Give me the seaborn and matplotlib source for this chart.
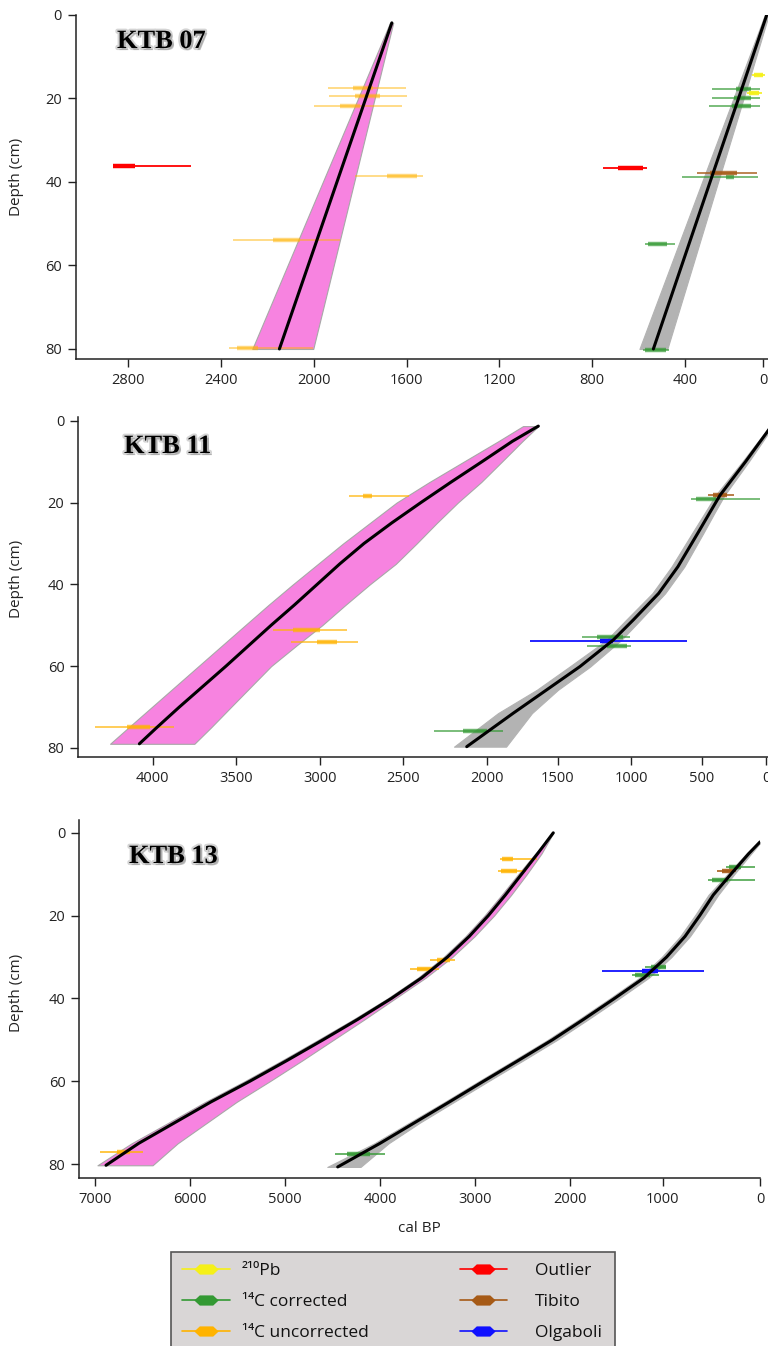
import numpy as np
import pandas as pd
import matplotlib
matplotlib.use("Agg")
import matplotlib.pyplot as plt
import seaborn as sns
from matplotlib.lines import Line2D
from matplotlib.patches import Rectangle
from matplotlib.path import Path
import matplotlib.patheffects as pe

# ---------------------------------------------------------------- data
# Age-depth models: depth (cm), median age, young edge, old edge (cal BP)
k07_unc_depth = [2, 80]
k07_unc_age = [1664, 2148]
k07_unc_young = [1658, 2002]
k07_unc_old = [1672, 2265]

k07_cor_depth = [0, 20, 40, 60, 80]
k07_cor_age = [-20, 125, 271, 414, 536]
k07_cor_young = [-30, 99, 230, 360, 476]
k07_cor_old = [-10, 151, 312, 461, 596]

k11_unc_depth = [1.3, 5, 10, 15, 20, 25, 30, 35, 40, 45, 50, 55, 60, 65, 70, 75, 79]
k11_unc_age = [1637, 1820, 2030, 2215, 2395, 2570, 2735, 2880, 3015, 3150, 3290, 3425, 3560,
               3700, 3840, 3975, 4080]
k11_unc_young = [1637, 1750, 1895, 2035, 2174, 2300, 2420, 2545, 2700, 2845, 2985, 3140, 3290,
                 3410, 3530, 3650, 3750]
k11_unc_old = [1745, 1920, 2139, 2345, 2540, 2700, 2860, 3010, 3160, 3305, 3445, 3585, 3725,
               3865, 4005, 4145, 4256]

k11_cor_depth = [0, 2.7, 10, 18.2, 22.5, 27.5, 35.7, 42.2, 48.7, 53.6, 60.1, 65.8, 71.5, 79.7]
k11_cor_age = [-70, -10, 160, 359, 440, 530, 670, 805, 984, 1121, 1348, 1578, 1814, 2121]
k11_cor_young = [-80, -25, 135, 324, 402, 490, 625, 760, 934, 1066, 1278, 1498, 1682, 1865]
k11_cor_old = [-60, 5, 185, 394, 478, 570, 715, 850, 1034, 1166, 1418, 1648, 1922, 2197]

k13_unc_depth = [0, 5, 10, 15, 20, 25, 30, 35, 40, 45, 50, 55, 60, 65, 70, 75, 80.3]
k13_unc_age = [2176, 2340, 2510, 2680, 2860, 3060, 3290, 3560, 3880, 4230, 4600, 4980, 5370,
               5780, 6160, 6540, 6884]
k13_unc_young = [2176, 2300, 2455, 2620, 2800, 3005, 3240, 3520, 3840, 4160, 4490, 4820, 5160,
                 5510, 5820, 6130, 6394]
k13_unc_old = [2176, 2365, 2545, 2720, 2900, 3100, 3330, 3600, 3920, 4275, 4650, 5032, 5425,
               5840, 6225, 6615, 6974]

k13_cor_depth = [2.2, 5, 10, 15, 20, 25, 30, 35, 40, 45, 50, 55, 60, 65, 70, 75, 80.7]
k13_cor_age = [0, 115, 300, 480, 620, 770, 960, 1200, 1520, 1850, 2185, 2545, 2910, 3270,
               3635, 4000, 4445]
k13_cor_young = [-10, 90, 265, 430, 570, 720, 910, 1150, 1470, 1800, 2135, 2495, 2860, 3220,
                 3580, 3910, 4205]
k13_cor_old = [10, 140, 335, 530, 670, 820, 1010, 1250, 1570, 1900, 2235, 2595, 2960, 3320,
               3690, 4060, 4555]

# Dated samples: (depth, range low, range high, core low, core high)
k07_pb210 = [(14.4, -10, 58, 0, 45), (18.8, 7, 84, 20, 70)]
k07_c14_cor = [(17.8, 15, 263, 60, 140), (19.9, 15, 263, 60, 150), (22.0, 15, 275, 60, 160),
               (38.8, 24, 414, 150, 190), (54.8, 443, 572, 479, 558), (80.2, 468, 579, 480, 570)]
k07_c14_unc = [(17.6, 1603, 1937, 1745, 1831), (19.6, 1599, 1933, 1714, 1822),
               (21.8, 1621, 1999, 1800, 1887), (38.6, 1528, 1822, 1556, 1685),
               (53.9, 1887, 2347, 2059, 2175), (79.8, 2002, 2364, 2240, 2330)]
k07_outlier = [(36.2, 2530, 2864, 2770, 2864), (36.7, 562, 754, 581, 688)]
k07_tibito = [(37.8, 32, 337, 135, 272)]
k07_olgaboli = []

k11_pb210 = []
k11_c14_cor = [(19.1, 44, 580, 392, 542), (53.0, 1007, 1332, 1053, 1234),
               (55.1, 1002, 1298, 1029, 1166), (75.9, 1889, 2316, 2002, 2141)]
k11_c14_unc = [(18.4, 2464, 2823, 2687, 2740), (51.2, 2839, 3277, 3000, 3159),
               (54.1, 2769, 3171, 2898, 3018), (75.0, 3872, 4346, 4016, 4156)]
k11_outlier = []
k11_tibito = [(18.2, 250, 453, 306, 417)]
k11_olgaboli = [(53.9, 603, 1696, 1121, 1211)]

k13_pb210 = []
k13_c14_cor = [(8.2, 53, 350, 193, 316), (11.3, 53, 533, 333, 491), (32.4, 965, 1193, 965, 1123),
               (34.4, 1045, 1326, 1140, 1298), (77.6, 3947, 4474, 4105, 4351)]
k13_c14_unc = [(6.2, 2351, 2737, 2600, 2720), (9.3, 2463, 2754, 2560, 2730),
               (30.8, 3211, 3474, 3260, 3400), (32.9, 3379, 3684, 3439, 3614),
               (77.0, 6491, 6947, 6632, 6772)]
k13_outlier = []
k13_tibito = [(9.3, 245, 439, 281, 386)]
k13_olgaboli = [(33.4, 579, 1656, 1053, 1228)]

core_names = ["KTB 07", "KTB 11", "KTB 13"]
k07_ticks = [0, 400, 800, 1200, 1600, 2000, 2400, 2800]
k11_ticks = [0, 500, 1000, 1500, 2000, 2500, 3000, 3500, 4000]
k13_ticks = [0, 1000, 2000, 3000, 4000, 5000, 6000, 7000]
depth_ticks = [0, 20, 40, 60, 80]
legend_labels = ["²¹⁰Pb", "¹⁴C corrected", "¹⁴C uncorrected", "Outlier", "Tibito", "Olgaboli"]

# ---------------------------------------------------------------- layout / style
W, H = 768, 1346
# horizontal axis calibration (pixel position of each tick; the published axes are not linear)
k07_tick_px = [763, 685, 592, 499.3, 406.7, 313.7, 221, 128.3]
k11_tick_px = [766, 702, 631, 557.7, 487, 403.3, 319.7, 236, 152.7]
k13_tick_px = [760, 662.7, 570, 475, 380, 285, 190, 95]

C_PB = "#f5f018"
C_COR = "#339933"
C_UNC = "#ffb300"
C_OUT = "#ff0000"
C_TIB = "#a65a16"
C_OLG = "#1010ff"
C_PINK = "#f783e0"
C_GREY = "#b3b3b3"

sns.set_style("ticks")
plt.rcParams["font.family"] = ["Open Sans", "DejaVu Sans"]


def piecewise(vals, px):
    v = np.asarray(vals, float)
    p = -np.asarray(px, float)
    s_lo = (p[1] - p[0]) / (v[1] - v[0])
    s_hi = (p[-1] - p[-2]) / (v[-1] - v[-2])

    def fwd(x):
        x = np.asarray(x, float)
        out = np.interp(x, v, p)
        out = np.where(x < v[0], p[0] + (x - v[0]) * s_lo, out)
        out = np.where(x > v[-1], p[-1] + (x - v[-1]) * s_hi, out)
        return out

    def inv(y):
        y = np.asarray(y, float)
        out = np.interp(y, p, v)
        out = np.where(y < p[0], v[0] + (y - p[0]) / s_lo, out)
        out = np.where(y > p[-1], v[-1] + (y - p[-1]) / s_hi, out)
        return out

    return fwd, inv


fig = plt.figure(figsize=(W / 100, H / 100), dpi=100)

panels = [
    dict(box=(76, 768, 14.5, 359), ylim=(82.4, 0.0), ticks=k07_ticks, tpx=k07_tick_px,
         unc=(k07_unc_depth, k07_unc_age, k07_unc_young, k07_unc_old),
         cor=(k07_cor_depth, k07_cor_age, k07_cor_young, k07_cor_old),
         dates=[(k07_c14_unc, C_UNC, 0.5), (k07_c14_cor, C_COR, 0.7), (k07_pb210, C_PB, 0.9),
                (k07_outlier, C_OUT, 1.0), (k07_tibito, C_TIB, 0.8), (k07_olgaboli, C_OLG, 1.0)],
         name_xy=(117, 48), ylab_y=177),
    dict(box=(78.3, 768, 416.7, 757.3), ylim=(82.3, -1.0), ticks=k11_ticks, tpx=k11_tick_px,
         unc=(k11_unc_depth, k11_unc_age, k11_unc_young, k11_unc_old),
         cor=(k11_cor_depth, k11_cor_age, k11_cor_young, k11_cor_old),
         dates=[(k11_c14_unc, C_UNC, 0.7), (k11_c14_cor, C_COR, 0.7), (k11_pb210, C_PB, 0.9),
                (k11_outlier, C_OUT, 1.0), (k11_tibito, C_TIB, 0.85), (k11_olgaboli, C_OLG, 1.0)],
         name_xy=(124, 453), ylab_y=579),
    dict(box=(79.3, 760, 820, 1177.7), ylim=(83.3, -3.1), ticks=k13_ticks, tpx=k13_tick_px,
         unc=(k13_unc_depth, k13_unc_age, k13_unc_young, k13_unc_old),
         cor=(k13_cor_depth, k13_cor_age, k13_cor_young, k13_cor_old),
         dates=[(k13_c14_unc, C_UNC, 0.8), (k13_c14_cor, C_COR, 0.8), (k13_pb210, C_PB, 0.9),
                (k13_outlier, C_OUT, 1.0), (k13_tibito, C_TIB, 0.9), (k13_olgaboli, C_OLG, 1.0)],
         name_xy=(129, 863), ylab_y=993),
]

for i, P in enumerate(panels):
    l, r, t, b = P["box"]
    ax = fig.add_axes([l / W, 1 - b / H, (r - l) / W, (b - t) / H])
    fwd, inv = piecewise(P["ticks"], P["tpx"])
    ax.set_xscale("function", functions=(fwd, inv))

    for (dep, age, yng, old), fill, edge in [(P["unc"], C_PINK, "#a8a8a8"), (P["cor"], C_GREY, C_GREY)]:
        ax.fill_betweenx(dep, yng, old, facecolor=fill, edgecolor=edge, lw=0.8, zorder=1)
        df = pd.DataFrame({"age": age, "depth": dep})
        sns.lineplot(data=df, x="age", y="depth", orient="y", sort=False, estimator=None,
                     color="black", lw=2.2, ax=ax, zorder=4)

    for rows, col, alpha in P["dates"]:
        if not rows:
            continue
        d = [row[0] for row in rows]
        ax.hlines(d, [row[1] for row in rows], [row[2] for row in rows],
                  colors=col, lw=1.3, alpha=alpha, zorder=3)
        ax.hlines(d, [row[3] for row in rows], [row[4] for row in rows],
                  colors=col, lw=3.2, alpha=alpha, zorder=3)

    ax.set_xlim(float(inv(-l)), float(inv(-r)))
    ax.set_ylim(*P["ylim"])
    ax.set_xticks(P["ticks"])
    ax.set_xticklabels([str(v) for v in P["ticks"]])
    ax.set_yticks(depth_ticks)
    ax.set_yticklabels([str(v) for v in depth_ticks])
    ax.minorticks_off()
    ax.set_xlabel("")
    ax.set_ylabel("Depth (cm)", fontsize=11, color="#222222")
    ax.yaxis.set_label_coords(24 / W, 1 - P["ylab_y"] / H, transform=fig.transFigure)
    for s in ["top", "right"]:
        ax.spines[s].set_visible(False)
    for s in ["left", "bottom"]:
        ax.spines[s].set_color("#222222")
        ax.spines[s].set_linewidth(1.1)
    ax.tick_params(direction="out", length=6, width=1, colors="#222222", labelsize=10.5, pad=4)
    ax.set_facecolor("white")

    nx, ny = P["name_xy"]
    fig.text(nx / W, 1 - ny / H, core_names[i], fontfamily="Liberation Serif", fontweight="bold",
             fontsize=19, ha="left", va="baseline", color="black",
             path_effects=[pe.Stroke(linewidth=3, foreground="#d4d4d4"),
                           pe.withSimplePatchShadow(offset=(1.5, -1.5), shadow_rgbFace="#8a8a8a", alpha=0.5)])

    if i == 2:
        ax.set_xlabel("cal BP", fontsize=11, color="#222222")
        ax.xaxis.set_label_coords(419.6 / W, 1 - 1221 / H, transform=fig.transFigure)

# ---------------------------------------------------------------- legend
fig.patches.append(Rectangle((171 / W, -0.01), (615 - 171) / W, 0.01 + (1346 - 1252) / H,
                             transform=fig.transFigure, facecolor="#d9d6d6",
                             edgecolor="#555555", lw=1.2, zorder=0))

hexpath = Path([(-1, 0), (-0.55, 0.42), (0.55, 0.42), (1, 0), (0.55, -0.42), (-0.55, -0.42), (-1, 0)],
               closed=True)
leg_colors = [C_PB, C_COR, C_UNC, C_OUT, C_TIB, C_OLG]
handles = [Line2D([0], [0], color=c, lw=1.2, marker=hexpath, markersize=17.5,
                  markerfacecolor=c, markeredgewidth=0) for c in leg_colors]

leg_kw = dict(loc="upper left", bbox_transform=fig.transFigure, frameon=False, borderpad=0,
              borderaxespad=0, fontsize=12.5, labelspacing=0.85)
leg1 = fig.legend(handles[:3], legend_labels[:3], bbox_to_anchor=(182 / W, 1 - 1263 / H),
                  handlelength=2.75, handletextpad=0.7, **leg_kw)
leg2 = fig.legend(handles[3:], legend_labels[3:], bbox_to_anchor=(460 / W, 1 - 1263 / H),
                  handlelength=2.7, handletextpad=1.6, **leg_kw)
for lg in (leg1, leg2):
    for tx in lg.get_texts():
        tx.set_color("#111111")

fig.savefig("out.png", dpi=100, facecolor="white")
